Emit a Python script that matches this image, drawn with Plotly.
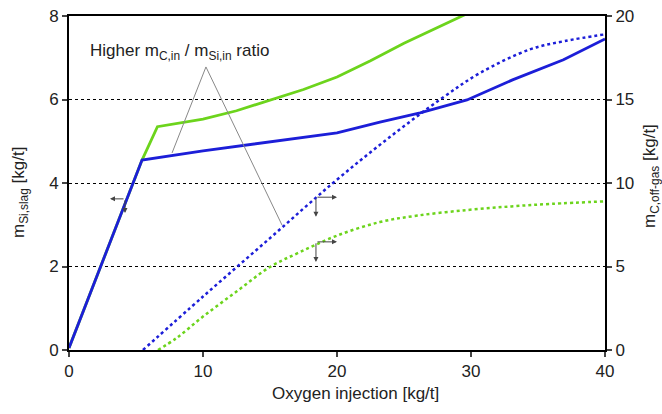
import plotly.graph_objects as go

# Left axis: Si in slag [kg/t]
blue_solid_x = [0, 5.45, 10, 15, 20, 23.2, 26.2, 29.7, 33.1, 36.9, 40]
blue_solid_y = [0.05, 4.55, 4.77, 4.98, 5.2, 5.46, 5.68, 5.99, 6.47, 6.95, 7.45]

green_solid_x = [0, 5.45, 6.6, 10, 12.5, 15, 17.5, 20, 22.5, 25, 27.5, 30]
green_solid_y = [0.05, 4.55, 5.35, 5.53, 5.73, 5.99, 6.24, 6.54, 6.93, 7.35, 7.72, 8.1]

# Right axis: C in off-gas [kg/t]
blue_dot_x = [5.52, 10, 15, 19.7, 23.7, 27.7, 30.7, 34.4, 37, 40]
blue_dot_y = [0, 3.2, 6.7, 10.0, 12.6, 15.0, 16.6, 18.0, 18.5, 18.9]

green_dot_x = [6.64, 8, 10, 12.5, 15, 17.2, 20, 23.2, 26, 29.7, 33, 36, 40]
green_dot_y = [0, 0.7, 2.0, 3.5, 4.97, 5.85, 6.85, 7.66, 8.05, 8.38, 8.6, 8.75, 8.9]

x_ticks = [0, 10, 20, 30, 40]
y_ticks = [0, 2, 4, 6, 8]
y2_ticks = [0, 5, 10, 15, 20]

BLUE = "#1c1ed8"
GREEN = "#6cd41c"
FONT = "Liberation Sans, Arial, sans-serif"
TXT = "#222222"

fig = go.Figure()
fig.add_trace(go.Scatter(x=green_solid_x, y=green_solid_y, mode="lines",
                         line=dict(color=GREEN, width=2.8), showlegend=False))
fig.add_trace(go.Scatter(x=blue_solid_x, y=blue_solid_y, mode="lines",
                         line=dict(color=BLUE, width=2.8), showlegend=False))
fig.add_trace(go.Scatter(x=blue_dot_x, y=blue_dot_y, mode="lines", yaxis="y2",
                         line=dict(color=BLUE, width=2.5, dash="dot", shape="spline"),
                         showlegend=False))
fig.add_trace(go.Scatter(x=green_dot_x, y=green_dot_y, mode="lines", yaxis="y2",
                         line=dict(color=GREEN, width=2.5, dash="dot", shape="spline"),
                         showlegend=False))

# annotation pointer lines
fig.add_shape(type="line", xref="x", yref="y", x0=10.22, y0=6.78, x1=7.69, y1=4.72,
              line=dict(color="#888888", width=1))
fig.add_shape(type="line", xref="x", yref="y", x0=10.22, y0=6.78, x1=15.9, y1=2.99,
              line=dict(color="#888888", width=1))

annotations = [
    dict(x=8.28, y=7.14, xref="x", yref="y", showarrow=False,
         text="Higher m<sub>C,in</sub> / m<sub>Si,in</sub> ratio",
         font=dict(size=17, color=TXT, family=FONT)),
    # axis titles
    dict(x=0.535, y=-0.129, xref="paper", yref="paper", showarrow=False,
         xanchor="center", yanchor="middle",
         text="Oxygen injection [kg/t]", font=dict(size=17, color=TXT, family=FONT)),
    dict(x=-0.0914, y=0.47, xref="paper", yref="paper", showarrow=False, textangle=-90,
         xanchor="center", yanchor="middle",
         text="m<sub>Si,slag</sub> [kg/t]", font=dict(size=17, color=TXT, family=FONT)),
    dict(x=1.087, y=0.52, xref="paper", yref="paper", showarrow=False, textangle=-90,
         xanchor="center", yanchor="middle",
         text="m<sub>C,off-gas</sub> [kg/t]", font=dict(size=17, color=TXT, family=FONT)),
]
# axis-direction arrows (corner -> tip)
arrow_sets = [
    (4.18, 3.62, 3.06, 3.62), (4.18, 3.62, 4.18, 3.28),
    (18.43, 3.66, 20.0, 3.66), (18.43, 3.66, 18.43, 3.19),
    (18.43, 2.59, 20.0, 2.59), (18.43, 2.59, 18.43, 2.11),
]
for cx, cy, tx, ty in arrow_sets:
    annotations.append(dict(x=tx, y=ty, ax=cx, ay=cy, xref="x", yref="y",
                            axref="x", ayref="y", showarrow=True, arrowhead=2,
                            arrowsize=1, arrowwidth=1, arrowcolor="#444444", text=""))

fig.update_layout(
    width=662, height=414,
    margin=dict(l=69, r=57, t=16, b=64),
    paper_bgcolor="white", plot_bgcolor="white",
    font=dict(family=FONT, size=15, color=TXT),
    annotations=annotations,
    xaxis=dict(range=[0, 40], tickvals=x_ticks, ticks="outside", ticklen=5, tickwidth=2,
               showline=True, linecolor="black", linewidth=2, mirror=True,
               showgrid=False, zeroline=False, automargin=False,
               tickfont=dict(size=17)),
    yaxis=dict(range=[0, 8], tickvals=y_ticks, ticks="outside", ticklen=5, tickwidth=2,
               showline=True, linecolor="black", linewidth=2,
               showgrid=True, gridcolor="black", griddash="dot", gridwidth=1,
               zeroline=False, automargin=False,
               tickfont=dict(size=17)),
    yaxis2=dict(range=[0, 20], tickvals=y2_ticks, overlaying="y", side="right",
                ticks="outside", ticklen=5, tickwidth=2,
                showline=True, linecolor="black", linewidth=2,
                showgrid=False, zeroline=False, automargin=False,
                tickfont=dict(size=17)),
)

fig.write_html("out.html", config={"displayModeBar": False},
               post_script="document.body.style.margin='0px';")
